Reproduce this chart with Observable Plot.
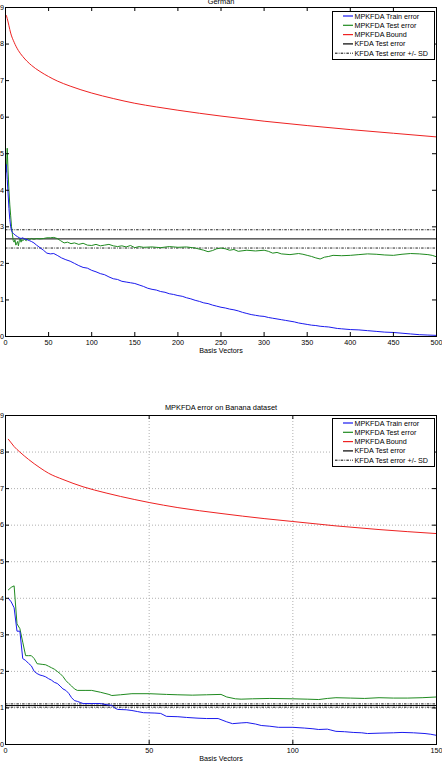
<!DOCTYPE html>
<html><head><meta charset="utf-8">
<script src="https://cdn.jsdelivr.net/npm/d3@7"></script>
<script src="https://cdn.jsdelivr.net/npm/@observablehq/plot@0.6"></script>
<style>
html,body{margin:0;padding:0;background:#fff;}
#wrap{position:relative;width:442px;height:774px;overflow:hidden;background:#fff;}
#wrap svg{overflow:hidden;display:block;}
.legend{position:absolute;left:0;top:0;}
</style></head><body><div id="wrap"></div><script>
// ---------- German panel data ----------
const germanTitle = "German";
const germanXTicks = [0,50,100,150,200,250,300,350,400,450,500];
const yTicks = [0,0.1,0.2,0.3,0.4,0.5,0.6,0.7,0.8,0.9];
const germanKfda = 0.267, germanSd = 0.025;

const germanBoundX = [1,2,4,6,10,15,20,30,40,50,60,75,100,125,150,175,200,250,300,350,400,450,500];
const germanBoundY = [0.878,0.870,0.850,0.830,0.805,0.782,0.766,0.742,0.725,0.711,0.699,0.685,0.666,0.651,0.638,0.628,0.619,0.603,0.589,0.577,0.566,0.556,0.546];

const germanTrainX = [1,2,3,4,5,6,7,8,9,10,12,14,16,18,20,22,25,28,30,33,36,40,44,48,52,56,60,65,70,75,80,85,90,95,100,105,110,115,120,125,130,135,140,145,150,155,160,165,170,175,180,185,190,195,200,205,210,215,220,225,230,235,240,245,250,255,260,265,270,275,280,285,290,295,300,305,310,315,320,325,330,335,340,345,350,355,360,365,370,375,380,385,390,395,400,410,420,430,440,450,460,470,480,490,500];
const germanTrainY = [0.470,0.430,0.390,0.350,0.320,0.300,0.290,0.285,0.282,0.280,0.276,0.273,0.270,0.268,0.270,0.267,0.265,0.262,0.260,0.256,0.250,0.243,0.236,0.228,0.226,0.227,0.222,0.215,0.210,0.206,0.200,0.194,0.189,0.187,0.181,0.177,0.172,0.169,0.163,0.158,0.156,0.151,0.149,0.147,0.145,0.141,0.137,0.132,0.129,0.127,0.123,0.121,0.117,0.115,0.112,0.110,0.106,0.103,0.099,0.096,0.092,0.090,0.086,0.083,0.080,0.078,0.075,0.073,0.070,0.066,0.063,0.060,0.058,0.056,0.055,0.052,0.050,0.048,0.046,0.044,0.042,0.040,0.037,0.035,0.033,0.031,0.030,0.028,0.027,0.026,0.024,0.022,0.021,0.020,0.019,0.018,0.016,0.014,0.012,0.011,0.009,0.007,0.005,0.004,0.003];

const germanTestX = [1,2,3,4,5,6,7,8,9,10,11,12,13,14,15,16,17,18,19,20,22,24,26,28,30,33,36,40,44,48,52,56,60,64,68,72,76,80,85,90,95,100,105,110,115,120,125,130,135,140,145,150,155,160,170,180,190,200,210,220,230,235,240,245,250,255,260,265,270,280,290,300,305,310,315,320,330,340,345,350,355,360,365,370,375,380,390,400,410,420,430,440,450,460,470,480,490,495,500];
const germanTestY = [0.450,0.515,0.450,0.400,0.360,0.330,0.300,0.280,0.262,0.258,0.265,0.250,0.255,0.260,0.248,0.262,0.268,0.258,0.265,0.262,0.266,0.262,0.268,0.265,0.268,0.266,0.268,0.267,0.268,0.270,0.270,0.271,0.268,0.262,0.256,0.258,0.254,0.256,0.252,0.255,0.250,0.249,0.252,0.248,0.250,0.252,0.248,0.246,0.248,0.245,0.249,0.243,0.246,0.244,0.245,0.243,0.246,0.244,0.245,0.242,0.236,0.232,0.235,0.240,0.242,0.240,0.236,0.238,0.233,0.236,0.234,0.236,0.233,0.228,0.230,0.226,0.224,0.227,0.225,0.222,0.219,0.215,0.212,0.217,0.219,0.222,0.221,0.222,0.224,0.226,0.225,0.223,0.222,0.225,0.227,0.226,0.224,0.222,0.218];

// ---------- Banana panel data ----------
const bananaTitle = "MPKFDA error on Banana dataset";
const bananaXTicks = [0,50,100,150];
const bananaKfda = 0.1066, bananaSd = 0.0045;

const bananaBoundX = [1,2,3,5,8,12,15,20,27,35,45,50,60,75,90,100,115,130,150];
const bananaBoundY = [0.835,0.825,0.815,0.800,0.780,0.757,0.742,0.725,0.705,0.688,0.670,0.662,0.648,0.632,0.618,0.610,0.598,0.588,0.577];

const bananaTrainX = [1,2,3,4,5,6,7,8,9,10,11,12,13,14,15,16,17,18,19,20,21,22,23,24,25,26,27,30,33,35,37,38,39,42,44,46,48,52,54,56,60,63,67,70,74,75,77,79,82,84,87,89,92,95,100,104,107,109,112,113,115,118,121,124,126,130,135,138,142,146,148,150];
const bananaTrainY = [0.400,0.390,0.374,0.310,0.310,0.235,0.230,0.222,0.215,0.200,0.194,0.190,0.188,0.185,0.180,0.176,0.170,0.167,0.160,0.152,0.148,0.140,0.128,0.120,0.118,0.115,0.112,0.112,0.112,0.109,0.107,0.100,0.096,0.095,0.093,0.090,0.087,0.086,0.085,0.077,0.076,0.074,0.072,0.071,0.071,0.068,0.062,0.057,0.059,0.060,0.056,0.052,0.050,0.047,0.047,0.045,0.043,0.041,0.042,0.040,0.036,0.035,0.033,0.032,0.030,0.031,0.032,0.033,0.032,0.030,0.028,0.025];

const bananaTestX = [1,2,3,4,5,6,7,8,9,10,11,12,13,14,15,16,17,18,19,20,21,22,23,24,25,28,30,33,36,37,40,44,50,56,60,65,70,75,77,80,82,86,92,100,105,109,112,115,120,125,130,135,140,145,150];
const bananaTestY = [0.423,0.430,0.434,0.330,0.317,0.280,0.243,0.243,0.243,0.235,0.221,0.220,0.219,0.218,0.214,0.210,0.206,0.200,0.194,0.186,0.175,0.167,0.160,0.152,0.148,0.148,0.148,0.143,0.137,0.134,0.136,0.139,0.139,0.137,0.136,0.135,0.136,0.137,0.130,0.125,0.124,0.125,0.126,0.125,0.124,0.123,0.126,0.128,0.127,0.126,0.128,0.127,0.127,0.128,0.130];

// ---------- legend ----------
const legendLabels = ["MPKFDA Train error","MPKFDA Test error","MPKFDA Bound","KFDA Test error","KFDA Test error +/- SD"];
const legendColors = ["#1a1aee","#1f8a1f","#ee2222","#000000","#000000"];
const legendDash = [null,null,null,null,"2.5,1.2,0.8,1.2"];

const FONT = "'Liberation Sans', Arial, Helvetica, sans-serif";
const W = 442, ML = 5, MR = 6;

function rows(xs, ys){ return xs.map((x,i)=>({x, y: ys[i]})); }
const yfmt = d => d === 0 ? "0" : d.toFixed(1);

function panel(cfg){
  const fw = W - ML - MR;
  const fh = cfg.height - cfg.mt - cfg.mb;
  const marks = [];
  if (cfg.grid){
    marks.push(Plot.gridX(cfg.xticks.filter(t => t > cfg.xmax*0 && t < cfg.xmax), {stroke:"#b0b0b0", strokeOpacity:1, strokeDasharray:"1,2"}));
    marks.push(Plot.gridY(yTicks.filter(t => t > 0 && t < 0.9), {stroke:"#b0b0b0", strokeOpacity:1, strokeDasharray:"1,2"}));
  }
  marks.push(Plot.ruleY([cfg.kfda], {stroke:"#000", strokeWidth:1}));
  marks.push(Plot.ruleY([cfg.kfda - cfg.sd, cfg.kfda + cfg.sd], {stroke:"#222", strokeWidth:1, strokeDasharray:"2.5,1.2,0.8,1.2"}));
  marks.push(Plot.line(rows(cfg.boundX, cfg.boundY), {x:"x", y:"y", stroke:legendColors[2], strokeWidth:1, curve:"monotone-x"}));
  marks.push(Plot.line(rows(cfg.testX, cfg.testY), {x:"x", y:"y", stroke:legendColors[1], strokeWidth:1}));
  marks.push(Plot.line(rows(cfg.trainX, cfg.trainY), {x:"x", y:"y", stroke:legendColors[0], strokeWidth:1}));
  marks.push(Plot.frame({stroke:"#000", strokeWidth:1}));
  marks.push(Plot.tickX(cfg.xticks, {x:d=>d, stroke:"#000", insetTop: fh-4}));
  marks.push(Plot.tickX(cfg.xticks, {x:d=>d, stroke:"#000", insetBottom: fh-4}));
  marks.push(Plot.tickY(yTicks, {y:d=>d, stroke:"#000", insetRight: fw-4}));
  marks.push(Plot.tickY(yTicks, {y:d=>d, stroke:"#000", insetLeft: fw-4}));
  marks.push(Plot.axisX(cfg.xticks, {tickSize:0, tickPadding:3, tickFormat:d=>String(d), label:null, fill:"#000"}));
  marks.push(Plot.axisY(yTicks, {tickSize:0, tickPadding:1.5, tickFormat:yfmt, label:null, fill:"#000"}));
  marks.push(Plot.text([cfg.title], {text:d=>d, frameAnchor:"top", dy:cfg.titleDy, lineAnchor:"middle", fill:"#000", fontSize:7.4}));
  marks.push(Plot.text(["Basis Vectors"], {text:d=>d, frameAnchor:"bottom", dy:14, lineAnchor:"middle", fill:"#000", fontSize:7.2}));
  return Plot.plot({
    width: W, height: cfg.height,
    marginLeft: ML, marginRight: MR, marginTop: cfg.mt, marginBottom: cfg.mb,
    x: {domain:[0, cfg.xmax], label:null},
    y: {domain:[0, 0.9], label:null},
    style: {fontFamily: FONT, fontSize: "7.2px", background:"#fff", color:"#000", overflow:"hidden"},
    marks
  });
}

function legend(left, top){
  const w = 102, h = 48, step = 9.3;
  const svg = d3.create("svg").attr("class","legend")
    .attr("width", w+20).attr("height", h+2)
    .style("position","absolute").style("left", left+"px").style("top", top+"px").style("overflow","visible");
  svg.append("rect").attr("x",0.5).attr("y",0.5).attr("width",w).attr("height",h).attr("fill","#fff").attr("stroke","none");
  legendLabels.forEach((lab,i)=>{
    const y = 5 + i*step;
    svg.append("line").attr("x1", legendDash[i] ? 3 : 11).attr("x2", 21).attr("y1", y).attr("y2", y)
      .attr("stroke", legendColors[i]).attr("stroke-width", i===4 ? 1 : 1.2)
      .attr("stroke-dasharray", legendDash[i]);
    svg.append("text").attr("x", 22.5).attr("y", y).attr("dy","0.35em")
      .attr("font-family", FONT).attr("font-size", 7.2).attr("fill","#000").text(lab);
  });
  svg.append("rect").attr("x",0.5).attr("y",0.5).attr("width",w).attr("height",h).attr("fill","none").attr("stroke","#000").attr("stroke-width",1);
  return svg.node();
}

const wrap = document.getElementById("wrap");
wrap.appendChild(panel({
  title: germanTitle, titleDy: -6, height: 370, mt: 7, mb: 34, xmax: 500, xticks: germanXTicks, grid: false,
  kfda: germanKfda, sd: germanSd,
  boundX: germanBoundX, boundY: germanBoundY, trainX: germanTrainX, trainY: germanTrainY, testX: germanTestX, testY: germanTestY
}));
wrap.appendChild(panel({
  title: bananaTitle, titleDy: -8, height: 404, mt: 45, mb: 30, xmax: 150, xticks: bananaXTicks, grid: true,
  kfda: bananaKfda, sd: bananaSd,
  boundX: bananaBoundX, boundY: bananaBoundY, trainX: bananaTrainX, trainY: bananaTrainY, testX: bananaTestX, testY: bananaTestY
}));
wrap.appendChild(legend(331.5, 10.5));
wrap.appendChild(legend(331.5, 417.5));
</script></body></html>
